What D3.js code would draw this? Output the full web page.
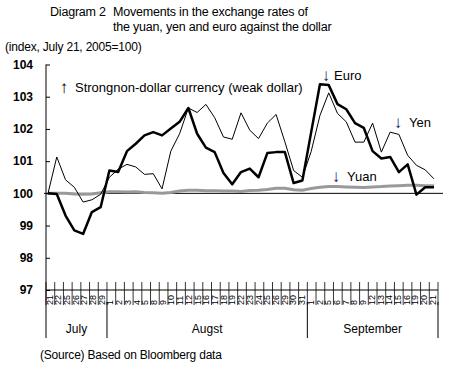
<!DOCTYPE html>
<html>
<head>
<meta charset="utf-8">
<script src="https://cdn.jsdelivr.net/npm/d3@7"></script>
<style>
  body { margin: 0; background: #fff; }
  svg { display: block; }
  text { font-family: "Liberation Sans", Arial, sans-serif; fill: #000; }
</style>
</head>
<body>
<div id="chart"></div>
<script>
// trading days, July 21 - Sept 21 2005
const julyDays = [21, 22, 25, 26, 27, 28, 29];
const augDays = [1, 2, 3, 4, 5, 8, 9, 10, 11, 12, 15, 16, 17, 18, 19, 22, 23, 24, 25, 26, 29, 30, 31];
const sepDays = [1, 2, 5, 6, 7, 8, 9, 12, 13, 14, 15, 16, 19, 20, 21];
const monthNames = ["July", "Augst", "September"];

const yen = [100.0, 101.13, 100.42, 100.19, 99.73, 99.80, 99.97, 100.5, 100.75, 100.9,
  100.82, 100.59, 100.61, 100.14, 101.31, 101.85, 102.65, 102.51, 102.76, 102.35,
  101.75, 101.68, 102.5, 101.96, 101.7, 102.18, 102.45, 101.6, 100.71, 100.5,
  101.3, 102.42, 103.12, 102.48, 102.22, 101.59, 101.59, 102.18, 101.28, 101.9,
  101.83, 101.18, 100.87, 100.73, 100.45];

const euro = [100.0, 99.98, 99.31, 98.85, 98.74, 99.42, 99.57, 100.71, 100.66, 101.31,
  101.54, 101.8, 101.9, 101.8, 102.01, 102.22, 102.65, 101.85, 101.42, 101.28,
  100.63, 100.28, 100.66, 100.77, 100.5, 101.25, 101.28, 101.28, 100.32, 100.4,
  101.9, 103.39, 103.36, 102.77, 102.61, 102.18, 102.03, 101.31, 101.08, 101.13,
  100.66, 100.9, 99.96, 100.19, 100.19];

const yuan = [100.0, 100.0, 100.0, 99.98, 99.97, 99.98, 100.02, 100.05, 100.05, 100.04,
  100.05, 100.03, 100.02, 100.0, 100.03, 100.07, 100.1, 100.1, 100.08, 100.08,
  100.07, 100.07, 100.06, 100.09, 100.1, 100.12, 100.16, 100.16, 100.11, 100.1,
  100.15, 100.19, 100.21, 100.21, 100.2, 100.19, 100.18, 100.2, 100.21, 100.23,
  100.24, 100.25, 100.25, 100.24, 100.24];

const yTicks = [97, 98, 99, 100, 101, 102, 103, 104];

////////////////////////////////////////////////////////////////

const W = 452, H = 378;
const plotLeft = 46, plotRight = 438, plotTop = 64.5, plotBottom = 290;

// flatten days with month index
let days = [];
[julyDays, augDays, sepDays].forEach(function (arr, m) {
  arr.forEach(function (d) { days.push({ day: d, month: m }); });
});
const keys = days.map(function (d, i) { return i; });

const svg = d3.select("#chart").append("svg")
  .attr("width", W).attr("height", H);

const y = d3.scaleLinear().domain([97, 104]).range([plotBottom, plotTop]);
// tick bands along the axis
const xb = d3.scaleBand().domain(keys).range([plotLeft, plotRight]);
// data points
const xp = d3.scalePoint().domain(keys).range([48, 434]);

// title
svg.append("text").attr("x", 50).attr("y", 16).attr("font-size", 12.5)
  .attr("letter-spacing", -0.2)
  .text("Diagram 2");
svg.append("text").attr("x", 113).attr("y", 16).attr("font-size", 12.5)
  .attr("letter-spacing", -0.2)
  .text("Movements in the exchange rates of");
svg.append("text").attr("x", 113).attr("y", 31).attr("font-size", 12.5)
  .attr("letter-spacing", -0.2)
  .text("the yuan, yen and euro against the dollar");
svg.append("text").attr("x", 5).attr("y", 51).attr("font-size", 12)
  .attr("letter-spacing", -0.2)
  .text("(index, July 21, 2005=100)");

// y axis
const yAxis = d3.axisLeft(y).tickValues(yTicks).tickSize(-4).tickPadding(13)
  .tickFormat(d3.format("d"));
const gy = svg.append("g").attr("transform", "translate(" + plotLeft + ",0)").call(yAxis);
gy.select(".domain").remove();
gy.selectAll("line").attr("stroke", "#000");
gy.selectAll("text").attr("font-size", 12).attr("font-weight", "bold")
  .attr("font-family", "Liberation Sans, Arial, sans-serif").attr("fill", "#000");
svg.append("line").attr("x1", plotLeft).attr("x2", plotLeft).attr("y1", plotTop).attr("y2", plotBottom)
  .attr("stroke", "#000");

// bottom axis line and ticks
svg.append("line").attr("x1", plotLeft).attr("x2", plotRight).attr("y1", plotBottom).attr("y2", plotBottom)
  .attr("stroke", "#000");
svg.append("g").selectAll("line")
  .data(keys.concat([keys.length]))
  .join("line")
  .attr("x1", function (k) { return k < keys.length ? xb(k) : plotRight; })
  .attr("x2", function (k) { return k < keys.length ? xb(k) : plotRight; })
  .attr("y1", plotBottom - 8).attr("y2", plotBottom + 15)
  .attr("stroke", "#000").attr("stroke-width", 0.8);

// day labels (rotated)
svg.append("g").selectAll("text")
  .data(days)
  .join("text")
  .attr("transform", function (d, i) {
    return "translate(" + (xb(i) + xb.bandwidth() / 2 - 1) + "," + (plotBottom + 15) + ") rotate(-90)";
  })
  .attr("font-size", 9)
  .attr("dy", "0.35em")
  .text(function (d) { return d.day; });

// month dividers and names
const monthStart = [0, julyDays.length, julyDays.length + augDays.length, keys.length];
monthStart.forEach(function (k, i) {
  let xx = k < keys.length ? xb(k) : plotRight;
  svg.append("line").attr("x1", xx).attr("x2", xx)
    .attr("y1", i == 0 ? plotBottom : plotBottom + 12).attr("y2", 338)
    .attr("stroke", "#000");
});
monthNames.forEach(function (m, i) {
  let x0 = xb(monthStart[i]);
  let x1 = monthStart[i + 1] < keys.length ? xb(monthStart[i + 1]) : plotRight;
  svg.append("text").attr("x", (x0 + x1) / 2).attr("y", 333)
    .attr("text-anchor", "middle").attr("font-size", 12)
    .text(m);
});

// 100 line
svg.append("line").attr("x1", 44).attr("x2", 443).attr("y1", y(100)).attr("y2", y(100))
  .attr("stroke", "#000").attr("stroke-width", 1);

const line = d3.line()
  .x(function (d, i) { return xp(i); })
  .y(function (d) { return y(d); });

svg.append("path").attr("d", line(yuan))
  .attr("fill", "none").attr("stroke", "#999").attr("stroke-width", 3);
svg.append("path").attr("d", line(yen))
  .attr("fill", "none").attr("stroke", "#000").attr("stroke-width", 1);
svg.append("path").attr("d", line(euro))
  .attr("fill", "none").attr("stroke", "#000").attr("stroke-width", 2.5)
  .attr("stroke-linejoin", "round");

// annotations: arrow glyph + label
function note(x, yy, arrow, label, gap, arrowColor) {
  svg.append("text").attr("x", x).attr("y", yy + 1)
    .attr("font-family", "DejaVu Sans, sans-serif").attr("font-size", 17)
    .attr("font-weight", "bold")
    .attr("text-anchor", "middle")
    .style("fill", arrowColor)
    .text(arrow);
  svg.append("text").attr("x", x + gap).attr("y", yy).attr("font-size", 13)
    .text(label);
}
note(64, 92, "\u2191", "Strongnon-dollar currency (weak dollar)", 11, "#000");
note(326, 80, "\u2193", "Euro", 8, "#10205a");
note(398, 127, "\u2193", "Yen", 11, "#10205a");
note(336, 181, "\u2193", "Yuan", 11, "#10205a");

// source
svg.append("text").attr("x", 40).attr("y", 359).attr("font-size", 12)
  .attr("letter-spacing", -0.2)
  .text("(Source) Based on Bloomberg data");
</script>
</body>
</html>
